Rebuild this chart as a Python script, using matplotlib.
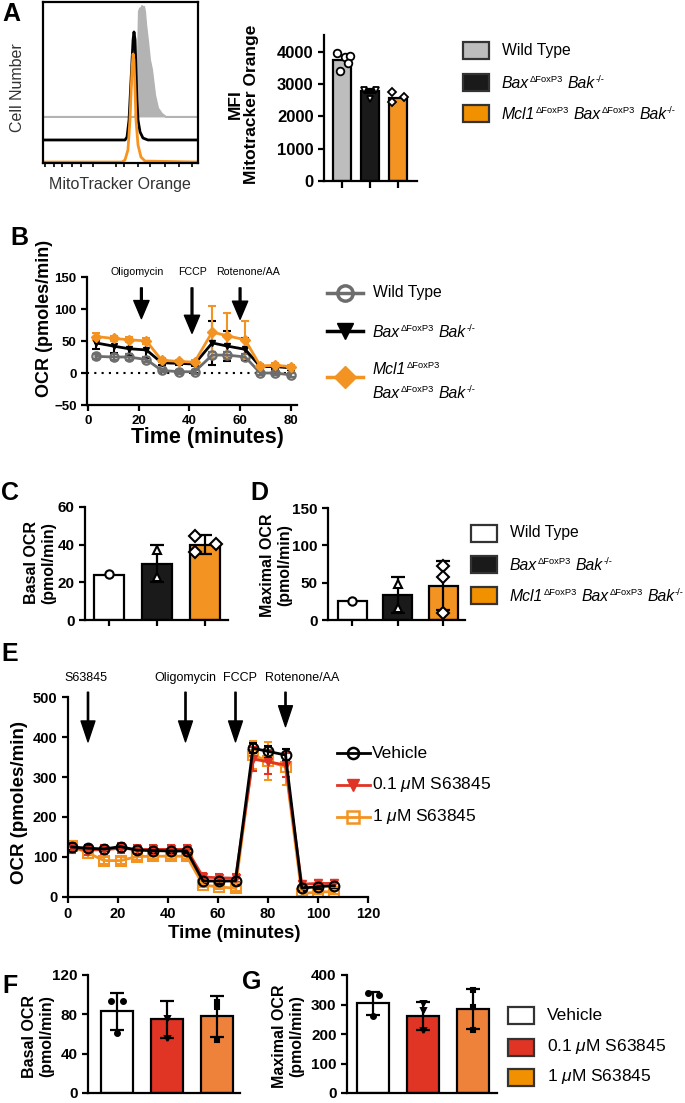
import numpy as np
import matplotlib
matplotlib.use('Agg')
import matplotlib.pyplot as plt
from matplotlib.patches import Rectangle
from matplotlib.lines import Line2D

plt.rcParams['font.family'] = 'Liberation Sans'
plt.rcParams['font.weight'] = 'bold'
plt.rcParams['mathtext.fontset'] = 'custom'
plt.rcParams['mathtext.rm'] = 'Liberation Sans:weight=normal'
plt.rcParams['mathtext.it'] = 'Liberation Sans:style=italic:weight=normal'
plt.rcParams['mathtext.bf'] = 'Liberation Sans:weight=bold'
plt.rcParams['axes.linewidth'] = 1.6
plt.rcParams['xtick.major.width'] = 1.6
plt.rcParams['ytick.major.width'] = 1.6

GREY = '#bdbdbd'
BLACK = '#1a1a1a'
ORANGE = '#f39322'
RED = '#e03424'
ORANGE2 = '#ef823a'
ORANGE_LEG = '#f29100'

# ---------------- data ----------------
# A: flow histograms (channel 0-1000, offset counts)
hist_x_wt = [0, 594, 606, 613, 619, 626, 632, 639, 645, 652, 658, 665, 677, 690, 703, 723, 742, 768, 794, 1000]
hist_y_wt = [28.6, 28.6, 33, 64, 94, 96, 95, 97.5, 94, 97, 94, 86, 76, 64, 58, 42, 34, 30.4, 28.6, 28.6]
hist_x_dko = [0, 529, 542, 555, 568, 581, 587, 594, 600, 606, 613, 626, 645, 677, 1000]
hist_y_dko = [14.3, 14.3, 16.1, 26.7, 51.6, 76.4, 81.4, 76.4, 57.8, 39.1, 26.7, 19.3, 15.5, 14.3, 14.3]
hist_x_tko = [0, 510, 529, 548, 561, 574, 581, 587, 594, 600, 613, 632, 658, 1000]
hist_y_tko = [0.6, 0.6, 1.9, 8.1, 26.7, 57.8, 67.7, 64, 45.3, 26.7, 11.2, 3.7, 1.2, 0.6]

mfi_mean = [3760, 2780, 2560]
mfi_err = [0, 60, 0]
mfi_pts = [[3980, 3860, 3880, 3650, 3420], [2830, 2830, 2540], [2770, 2610, 2460]]

# B: seahorse trace, Treg genotypes
b_time = [3, 10, 16, 23, 29, 36, 42, 49, 55, 62, 68, 74, 80]
b_wt = [26, 25, 25, 21, 4, 2, 2, 28, 28, 25, 0, 0, -3]
b_wt_sd = [4, 4, 4, 4, 3, 3, 3, 5, 5, 5, 3, 3, 3]
b_dko = [47, 42, 38, 36, 16, 15, 14, 47, 42, 37, 10, 10, 8]
b_dko_sd = [10, 10, 12, 13, 3, 3, 3, 35, 24, 17, 3, 3, 3]
b_tko = [57, 54, 52, 50, 20, 18, 17, 64, 58, 52, 11, 12, 10]
b_tko_sd = [5, 4, 4, 4, 3, 3, 3, 40, 36, 30, 3, 3, 3]
b_inject = ['Oligomycin', 'FCCP', 'Rotenone/AA']
b_inject_t = [21, 41, 60]
b_inject_tip = [85, 62, 84]

# C / D
basal_mean = [24, 30, 40]
basal_err = [0, 10, 5]
basal_pts = [[24.5], [37, 23], [44.5, 40.5, 36]]
max_mean = [25, 33, 46]
max_err = [0, 24, 33]
max_pts = [[26], [48, 16], [72, 58, 9]]

# E: S63845 trace
e_time = [1.5, 8, 14.5, 21, 27.5, 34, 41, 47.5, 54, 60.5, 67, 74, 80, 87, 93.5, 100, 106.5]
e_veh = [125, 122, 120, 126, 117, 116, 115, 115, 40, 40, 40, 372, 364, 355, 22, 26, 28]
e_veh_sd = [8, 7, 6, 7, 6, 6, 6, 6, 8, 8, 8, 12, 14, 14, 6, 6, 6]
e_low = [122, 118, 118, 122, 119, 119, 119, 119, 50, 48, 47, 345, 338, 330, 32, 34, 34]
e_low_sd = [12, 12, 12, 12, 12, 12, 12, 12, 10, 10, 10, 30, 30, 30, 8, 8, 8]
e_high = [127, 110, 91, 91, 101, 102, 102, 102, 30, 25, 22, 355, 340, 325, 8, 13, 13]
e_high_sd = [12, 12, 8, 8, 8, 8, 8, 8, 6, 6, 6, 35, 48, 45, 5, 5, 5]
e_inject = ['S63845', 'Oligomycin', 'FCCP', 'Rotenone/AA']
e_inject_t = [8, 47, 67, 87]
e_inject_tip = [388, 388, 388, 426]

# F / G
f_mean = [83, 75, 78]
f_err = [19, 19, 21]
f_pts = [[94, 94, 61], [76, 56], [93, 87, 54]]
g_mean = [304, 262, 284]
g_err = [40, 47, 68]
g_pts = [[338, 332, 260], [280, 305, 213], [350, 290, 215]]

W, H = 685, 1103
fig = plt.figure(figsize=(W / 100, H / 100), dpi=100)
renderer = fig.canvas.get_renderer()


def pxbox(x0, y0, x1, y1):
    a = fig.add_axes([x0 / W, 1 - y1 / H, (x1 - x0) / W, (y1 - y0) / H])
    a.set_facecolor('none')
    return a


def clean(a, fs):
    a.spines['top'].set_visible(False)
    a.spines['right'].set_visible(False)
    a.tick_params(labelsize=fs, length=4, width=1.6)


def bars(a, means, errs, pts, colors, markers, ms, jit, face='white'):
    x = np.arange(len(means))
    a.bar(x, means, width=0.64, color=colors, edgecolor='k', linewidth=1.6, zorder=2)
    for i in range(len(means)):
        if errs[i] > 0:
            a.errorbar(x[i], means[i], yerr=errs[i], color='k', capsize=5,
                       elinewidth=1.6, capthick=1.6, zorder=3, fmt='none')
        p = pts[i]
        a.plot(x[i] + np.array(jit[i][:len(p)]), p, markers[i], mfc=face,
               mec='k', mew=1.5, ms=ms, zorder=4, linestyle='none')
    a.set_xticks(x)
    a.tick_params(axis='x', labelbottom=False)


# ---------- A histogram ----------
ah = pxbox(43, 2, 198, 163)
ah.fill_between(hist_x_wt, hist_y_wt[0], hist_y_wt, color='#b3b3b3', lw=0)
ah.plot(hist_x_wt, hist_y_wt, color='#b3b3b3', lw=1.5)
ah.plot(hist_x_dko, hist_y_dko, color='k', lw=2)
ah.plot(hist_x_tko, hist_y_tko, color='#f7931e', lw=2)
ah.set_xlim(0, 1000)
ah.set_ylim(0, 100)
ah.set_yticks([])
ah.set_xticks([15, 70, 120, 190, 245, 320, 470, 520, 610, 690, 790, 880, 960])
ah.tick_params(axis='x', length=3, width=1.2, labelbottom=False)
for s in ah.spines.values():
    s.set_linewidth(1.6)

# ---------- A MFI ----------
am = pxbox(324, 35, 417, 181)
clean(am, 12)
x = np.arange(3)
am.bar(x, mfi_mean, width=0.64, color=[GREY, BLACK, ORANGE], edgecolor='k', linewidth=1.6)
am.errorbar(x[1], mfi_mean[1], yerr=mfi_err[1], fmt='none', color='k', capsize=4, elinewidth=1.5, capthick=1.6)
am.plot(x[0] + np.array([-0.18, 0.1, 0.28, 0.2, -0.08]), mfi_pts[0], 'o', mfc='white', mec='k', mew=1.3, ms=5.5, ls='none')
am.plot(x[1] + np.array([-0.2, 0.2, 0.0]), mfi_pts[1], 'v', mfc='white', mec='k', mew=1.3, ms=5, ls='none')
am.plot(x[2] + np.array([-0.2, 0.22, -0.2]), mfi_pts[2], 'D', mfc='white', mec='k', mew=1.3, ms=4.5, ls='none')
am.set_xlim(-0.643, 2.68)
am.set_ylim(0, 4527)
am.set_yticks([0, 1000, 2000, 3000, 4000])
am.set_xticks(x)
am.tick_params(axis='x', labelbottom=False, length=5)

# ---------- B ----------
ab = pxbox(87, 277, 297, 405)
clean(ab, 9.5)
ab.axhline(0, color='k', ls=(0, (1, 2.5)), lw=1.5)
ab.errorbar(b_time, b_wt, yerr=b_wt_sd, color='#6d6d6d', marker='o', mfc='none', mec='#6d6d6d',
            mew=1.6, ms=6, lw=2, capsize=3, elinewidth=1.5, capthick=1.5)
ab.errorbar(b_time, b_dko, yerr=b_dko_sd, color='k', marker='v', ms=5, lw=2,
            capsize=3, elinewidth=1.5, capthick=1.5)
ab.errorbar(b_time, b_tko, yerr=b_tko_sd, color=ORANGE, marker='D', ms=5, lw=2,
            capsize=3, elinewidth=1.5, capthick=1.5)
ab.set_xlim(-0.5, 82.5)
ab.set_ylim(-50, 150)
ab.set_xticks([0, 20, 40, 60, 80])
ab.set_yticks([-50, 0, 50, 100, 150])
for lab, t, tip in zip(b_inject, b_inject_t, b_inject_tip):
    ab.annotate('', xy=(t, tip), xytext=(t, 133), annotation_clip=False,
                arrowprops=dict(facecolor='k', edgecolor='k', width=1.3, headwidth=11, headlength=13, shrink=0))
for lab, t in zip(b_inject, [19.5, 41.3, 63]):
    ab.text(t, 158, lab, ha='center', va='center', fontsize=7.7, fontweight='normal', clip_on=False)

# ---------- C ----------
ac = pxbox(85, 507, 228, 620)
clean(ac, 11)
bars(ac, basal_mean, basal_err, basal_pts, ['white', BLACK, ORANGE], ['o', '^', 'D'], 6,
     [[0.0], [0.0, 0.0], [-0.2, 0.22, -0.2]])
ac.set_xlim(-0.5, 2.48)
ac.set_ylim(0, 60)
ac.set_yticks([0, 20, 40, 60])

# ---------- D ----------
ad = pxbox(328, 508, 465, 620)
clean(ad, 11)
bars(ad, max_mean, max_err, max_pts, ['white', BLACK, ORANGE], ['o', '^', 'D'], 6,
     [[0.0], [0.0, 0.0], [0.0, 0.0, 0.0]])
ad.set_xlim(-0.53, 2.48)
ad.set_ylim(0, 150)
ad.set_yticks([0, 50, 100, 150])

# ---------- E ----------
ae = pxbox(68, 697, 368, 897)
clean(ae, 10.5)
ae.errorbar(e_time, e_high, yerr=e_high_sd, color=ORANGE, marker='s', mfc='none', mec=ORANGE,
            mew=1.5, ms=7, lw=2, capsize=3, elinewidth=1.5, capthick=1.5)
ae.errorbar(e_time, e_low, yerr=e_low_sd, color=RED, marker='v', ms=6, lw=2,
            capsize=3, elinewidth=1.5, capthick=1.5)
ae.errorbar(e_time, e_veh, yerr=e_veh_sd, color='k', marker='o', mfc='none', mec='k',
            mew=1.5, ms=7, lw=2, capsize=3, elinewidth=1.5, capthick=1.5)
ae.set_xlim(0, 120)
ae.set_ylim(0, 500)
ae.set_xticks([0, 20, 40, 60, 80, 100, 120])
ae.set_yticks([0, 100, 200, 300, 400, 500])
for lab, t, tip in zip(e_inject, e_inject_t, e_inject_tip):
    ae.annotate('', xy=(t, tip), xytext=(t, 512), annotation_clip=False,
                arrowprops=dict(facecolor='k', edgecolor='k', width=0.9, headwidth=10, headlength=15, shrink=0))
for lab, t in zip(e_inject, [7.2, 46.8, 68.8, 93.6]):
    ae.text(t, 547, lab, ha='center', va='center', fontsize=9, fontweight='normal', clip_on=False)

# ---------- F ----------
af = pxbox(88, 975, 240, 1093)
clean(af, 11)
bars(af, f_mean, f_err, f_pts, ['white', RED, ORANGE2], ['o', 'v', 's'], 3.5,
     [[-0.12, 0.12, 0.0], [0.0, 0.0], [0.0, 0.0, 0.0]], face='k')
af.set_xlim(-0.57, 2.47)
af.set_ylim(0, 120)
af.set_yticks([0, 40, 80, 120])
af.tick_params(axis='x', length=0)

# ---------- G ----------
ag = pxbox(347, 975, 497, 1093)
clean(ag, 11)
bars(ag, g_mean, g_err, g_pts, ['white', RED, ORANGE2], ['o', 'v', 's'], 3.5,
     [[-0.1, 0.12, 0.0], [0.0, 0.0, 0.0], [0.0, 0.0, 0.0]], face='k')
ag.set_xlim(-0.52, 2.48)
ag.set_ylim(0, 400)
ag.set_yticks([0, 100, 200, 300, 400])
ag.tick_params(axis='x', length=0)

# ---------- overlay: panel letters, axis titles, legends ----------
ov = fig.add_axes([0, 0, 1, 1])
ov.set_xlim(0, W)
ov.set_ylim(H, 0)
ov.axis('off')
ov.patch.set_visible(False)

for let, lx, ly in [('A', 2, 14), ('B', 10, 238), ('C', 1, 493), ('D', 250, 493),
                    ('E', 1, 654), ('F', 2, 986), ('G', 242, 982)]:
    ov.text(lx, ly, let, fontsize=18, fontweight='bold', ha='left', va='center')

ov.text(18, 88, 'Cell Number', rotation=90, fontsize=11.5, fontweight='normal', ha='center', va='center', color='#333333')
ov.text(120, 184, 'MitoTracker Orange', fontsize=11.5, fontweight='normal', ha='center', va='center', color='#333333')
ov.text(243, 104, 'MFI\nMitotracker Orange', rotation=90, fontsize=12.5, ha='center', va='center',
        multialignment='center', linespacing=1.1)

# genotype labels: italic gene names with small upright superscripts
SUP = 'ΔFoxP3'
KO = '-/-'
bax_parts = [('Bax', 'it'), (SUP, 'sup'), (' ', 'sp'), ('Bak', 'it'), (KO, 'sup')]
mcl1_parts = [('Mcl1', 'it'), (SUP, 'sup')]
mcl_parts = mcl1_parts + [(' ', 'sp')] + bax_parts


def rich(x, y, parts, fs):
    em = fs * 100 / 72
    base = y + 0.36 * em
    for s, kind in parts:
        if kind == 'sp':
            x += 0.3 * em
            continue
        if kind == 'it':
            t = ov.text(x, base, s, fontsize=fs, style='italic', fontweight='normal', va='baseline', ha='left')
        elif kind == 'sup':
            t = ov.text(x + 0.5, base - 0.33 * em, s, fontsize=fs * 0.6, fontweight='normal', va='baseline', ha='left')
        else:
            t = ov.text(x, base, s, fontsize=fs, fontweight='normal', va='baseline', ha='left')
        x += t.get_window_extent(renderer).width + (0.5 if kind == 'sup' else 0)


def box_legend(x0, ys, colors, labels, fs, bw=26, bh=17):
    for y, c, t in zip(ys, colors, labels):
        ov.add_patch(Rectangle((x0, y - bh / 2), bw, bh, facecolor=c, edgecolor='#333333', lw=1.6))
        if isinstance(t, list):
            rich(x0 + bw + 13, y, t, fs)
        else:
            ov.text(x0 + bw + 13, y, t, fontsize=fs, fontweight='normal', ha='left', va='center')


geno_labels = ['Wild Type', bax_parts, mcl_parts]
box_legend(463, [50, 82, 113], [GREY, BLACK, ORANGE_LEG], geno_labels, 11.3)
box_legend(471, [533, 564, 595], ['white', BLACK, ORANGE_LEG], geno_labels, 11.3)
box_legend(508, [1015, 1047, 1077], ['white', RED, ORANGE_LEG],
           ['Vehicle', r'0.1 $\mu$M S63845', r'1 $\mu$M S63845'], 12.5)

# B legend
ov.add_line(Line2D([327, 363], [293, 293], color='#6d6d6d', lw=2.5))
ov.plot([345], [293], 'o', mfc='none', mec='#6d6d6d', mew=2.5, ms=11)
ov.add_line(Line2D([327, 363], [331, 331], color='k', lw=2.5))
ov.plot([345], [331], 'v', color='k', ms=11)
ov.add_line(Line2D([327, 363], [377, 377], color=ORANGE, lw=2.5))
ov.plot([345], [377], 'D', color=ORANGE, ms=11)
ov.text(373, 293, 'Wild Type', fontsize=11.3, fontweight='normal', va='center')
rich(373, 331, bax_parts, 11.3)
rich(373, 368, mcl1_parts, 11.3)
rich(373, 392, bax_parts, 11.3)

# B axis titles
ov.text(45, 318, 'OCR (pmoles/min)', rotation=90, fontsize=13, ha='center', va='center')
ov.text(207, 437, 'Time (minutes)', fontsize=15.5, ha='center', va='center')

# C/D/F/G y titles
ov.text(40, 563, 'Basal OCR\n(pmol/min)', rotation=90, fontsize=11.5, ha='center', va='center', linespacing=1.15)
ov.text(276, 565, 'Maximal OCR\n(pmol/min)', rotation=90, fontsize=11.5, ha='center', va='center', linespacing=1.15)
ov.text(38, 1036, 'Basal OCR\n(pmol/min)', rotation=90, fontsize=11.5, ha='center', va='center', linespacing=1.15)
ov.text(288, 1036, 'Maximal OCR\n(pmol/min)', rotation=90, fontsize=11.5, ha='center', va='center', linespacing=1.15)

# E legend + titles
for y, c, m, lab in [(753, 'k', 'o', 'Vehicle'), (785, RED, 'v', r'0.1 $\mu$M S63845'),
                     (817, ORANGE, 's', r'1 $\mu$M S63845')]:
    ov.add_line(Line2D([337, 370], [y, y], color=c, lw=2))
    if m == 'v':
        ov.plot([353], [y], m, color=c, ms=8)
    else:
        ov.plot([353], [y], m, mfc='none', mec=c, mew=1.8, ms=8)
    ov.text(372, y, lab, fontsize=12.5, fontweight='normal', va='center')
ov.text(20, 803, 'OCR (pmoles/min)', rotation=90, fontsize=13.5, ha='center', va='center')
ov.text(234, 933, 'Time (minutes)', fontsize=13.5, ha='center', va='center')

fig.savefig('out.png', dpi=100)
